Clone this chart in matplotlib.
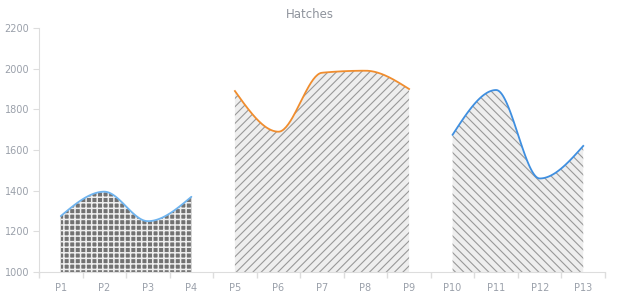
import numpy as np
import matplotlib
matplotlib.use("Agg")
import matplotlib.pyplot as plt

categories = ["P1", "P2", "P3", "P4", "P5", "P6", "P7", "P8", "P9", "P10", "P11", "P12", "P13"]
s1_idx = [0, 1, 2, 3]
s1_val = [1275, 1395, 1250, 1370]
s2_idx = [4, 5, 6, 7, 8]
s2_val = [1890, 1690, 1980, 1990, 1900]
s3_idx = [9, 10, 11, 12]
s3_val = [1675, 1895, 1460, 1620]
yticks = [1000, 1200, 1400, 1600, 1800, 2000, 2200]


def monotone(x, y, n=40):
    x = np.asarray(x, float); y = np.asarray(y, float)
    m = len(x)
    h = np.diff(x); s = np.diff(y) / h
    t = np.zeros(m)
    for i in range(1, m - 1):
        p = (s[i - 1] * h[i] + s[i] * h[i - 1]) / (h[i - 1] + h[i])
        t[i] = (np.sign(s[i - 1]) + np.sign(s[i])) * min(abs(s[i - 1]), abs(s[i]), 0.5 * abs(p))
    t[0] = (3 * s[0] - t[1]) / 2 if m > 2 else s[0]
    t[-1] = (3 * s[-1] - t[-2]) / 2 if m > 2 else s[-1]
    xs, ys = [], []
    for i in range(m - 1):
        u = np.linspace(0, 1, n, endpoint=(i == m - 2))
        x0, x1, y0, y1 = x[i], x[i + 1], y[i], y[i + 1]
        dx = (x1 - x0) / 3
        P0, P1, P2, P3 = y0, y0 + dx * t[i], y1 - dx * t[i + 1], y1
        xs.append(x0 + (x1 - x0) * u)
        ys.append((1 - u) ** 3 * P0 + 3 * (1 - u) ** 2 * u * P1 + 3 * (1 - u) * u ** 2 * P2 + u ** 3 * P3)
    return np.concatenate(xs), np.concatenate(ys)


def set_hlw(coll, w):
    if hasattr(coll, "set_hatch_linewidth"):
        coll.set_hatch_linewidth(w)
    else:
        coll._hatch_linewidth = w


fig = plt.figure(figsize=(6.2, 3.0), dpi=100)
ax = fig.add_axes([39 / 620, 28 / 300, (605 - 39) / 620, (272 - 28) / 300])

grey_txt = "#9aa0aa"
axis_col = "#dddddd"

# series 1: dotted pattern
xs, ys = monotone(s1_idx, s1_val)
c1 = ax.fill_between(xs, 1000, ys, facecolor="#727272", edgecolor="#eeeeee", hatch="+++", linewidth=0)
set_hlw(c1, 1.1)
ax.plot(xs, ys, color="#6fb4ef", lw=1.3, solid_capstyle="round")

xs, ys = monotone(s2_idx, s2_val)
c2 = ax.fill_between(xs, 1000, ys, facecolor="#eeeeee", edgecolor="#999999", hatch="////", linewidth=0)
set_hlw(c2, 0.8)
ax.plot(xs, ys, color="#f08d2e", lw=1.3)

xs, ys = monotone(s3_idx, s3_val)
c3 = ax.fill_between(xs, 1000, ys, facecolor="#eeeeee", edgecolor="#999999", hatch="\\\\\\\\", linewidth=0)
set_hlw(c3, 0.8)
ax.plot(xs, ys, color="#3f8fe0", lw=1.3)

ax.set_xlim(-0.5, len(categories) - 0.5)
ax.set_ylim(1000, 2200)
ax.set_yticks(yticks)
ax.set_yticklabels([str(v) for v in yticks])
ax.set_xticks(range(len(categories)))
ax.set_xticklabels(categories)
ax.set_xticks(np.arange(-0.5, len(categories), 1.0), minor=True)
ax.tick_params(axis="x", which="major", length=0, labelsize=7, labelcolor=grey_txt, pad=8)
ax.tick_params(axis="x", which="minor", length=4, color=axis_col, width=1)
ax.tick_params(axis="y", length=4, color=axis_col, labelsize=7, labelcolor=grey_txt, pad=3)
for sp in ["top", "right"]:
    ax.spines[sp].set_visible(False)
ax.spines["left"].set_color(axis_col)
ax.spines["bottom"].set_color(axis_col)
ax.set_facecolor("white")
fig.text(0.5, 1 - 14 / 300, "Hatches", ha="center", va="center", fontsize=8.5, color="#8e939c")

fig.savefig("out.png", dpi=100)
